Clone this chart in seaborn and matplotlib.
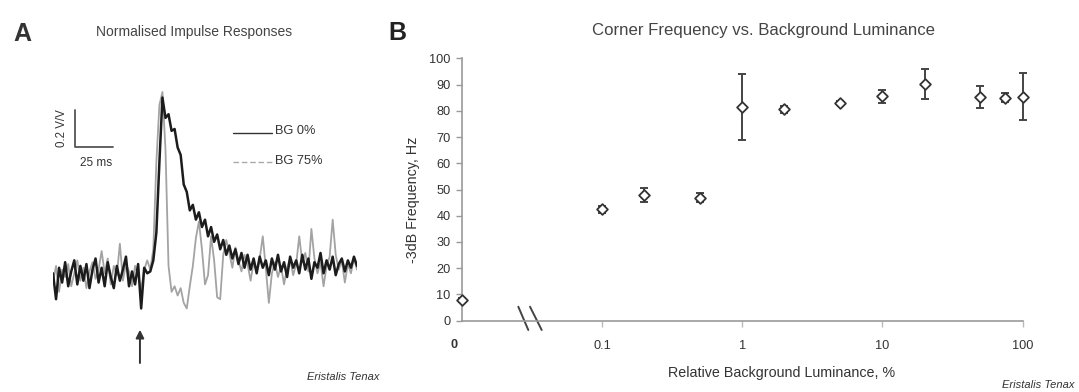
import numpy as np
import matplotlib
matplotlib.use("Agg")
import matplotlib.pyplot as plt
from matplotlib.ticker import NullLocator
import seaborn as sns

# ---------------- data ----------------
# Panel A: normalised impulse responses (V/V), sampled every 2 ms from 0 to 200 ms
black_bg0 = [
    0.02, -0.12, 0.05, -0.03, 0.08, -0.05, 0.03, 0.09, -0.04, 0.06,
    -0.02, 0.07, -0.06, 0.04, 0.10, -0.03, 0.05, -0.05, 0.08, 0.00,
    -0.06, 0.06, -0.02, 0.04, 0.11, -0.05, 0.03, -0.04, 0.07, -0.17,
    0.05, 0.02,
    0.03, 0.09, 0.24, 0.62, 0.97, 0.86, 0.88, 0.79, 0.80, 0.70,
    0.66, 0.50, 0.46, 0.36, 0.39, 0.31, 0.35, 0.27, 0.31, 0.22,
    0.27, 0.19, 0.23, 0.15, 0.20, 0.12, 0.17, 0.10, 0.15, 0.07,
    0.13, 0.05, 0.12, 0.04, 0.10, 0.02, 0.11, 0.05, 0.09, 0.01,
    0.10, 0.04, 0.12, 0.03, 0.08, 0.00, 0.11, 0.05, 0.09, 0.02,
    0.12, 0.04, 0.10, -0.01, 0.08, 0.05, 0.13, 0.02, 0.09, 0.04,
    0.11, 0.01, 0.07, 0.10, 0.03, 0.09, 0.05, 0.11, 0.06]
grey_bg75 = [
    -0.03, 0.06, -0.08, 0.04, 0.00, 0.07, -0.05, 0.02, 0.09, -0.02,
    0.05, -0.06, 0.03, 0.08, -0.01, 0.04, 0.14, 0.02, 0.10, -0.04,
    0.06, 0.01, 0.18, -0.02, 0.07, 0.03, -0.05, 0.06, 0.01, -0.07,
    0.04, 0.09,
    0.04, 0.15, 0.62, 0.93, 1.00, 0.69, 0.06, -0.08, -0.05, -0.10,
    -0.06, -0.14, -0.17, -0.05, 0.06, 0.21, 0.30, 0.15, -0.04, 0.01,
    0.22, 0.09, -0.11, -0.12, 0.12, 0.20, 0.13, 0.05, 0.16, 0.09,
    0.03, 0.12, 0.07, -0.02, 0.08, 0.03, 0.10, 0.22, 0.05, -0.14,
    0.02, 0.08, 0.00, 0.06, -0.04, 0.05, 0.10, 0.01, 0.07, 0.22,
    0.08, 0.13, 0.03, 0.26, 0.10, 0.02, 0.08, -0.05, 0.06, 0.11,
    0.31, 0.12, 0.04, 0.09, -0.03, 0.07, 0.02, 0.10, 0.04]
sample_ms = 2.0
legend_labels = ["BG 0%", "BG 75%"]

# Panel B: corner frequency vs background luminance
luminance = [0, 0.1, 0.2, 0.5, 1, 2, 5, 10, 20, 50, 75, 100]
corner_hz = [7.9, 42.4, 47.9, 46.9, 81.3, 80.6, 83.1, 85.6, 90.1, 85.4, 85.0, 85.4]
corner_err = [0.8, 1.4, 2.7, 1.7, 12.6, 1.3, 0.8, 2.5, 5.8, 4.2, 1.8, 9.0]
x_ticks = [0.1, 1, 10, 100]
x_ticklabels = ["0.1", "1", "10", "100"]
y_ticks = list(range(0, 101, 10))

# ---------------- style ----------------
sns.set_theme(style="white")
plt.rcParams["font.family"] = ["Liberation Sans Narrow", "Liberation Sans", "DejaVu Sans"]
TXT = "#333333"

W, H = 1079, 392
fig = plt.figure(figsize=(W / 100, H / 100), dpi=100)

def fx(x):
    return x / W

def fy(y):
    return 1 - y / H

# ---------------- panel A ----------------
axA = fig.add_axes([53 / W, (H - 323.25) / H, 304 / W, 240.5 / H])
t_black = np.arange(len(black_bg0)) * sample_ms
t_grey = np.arange(len(grey_bg75)) * sample_ms
sns.lineplot(x=t_grey, y=grey_bg75, ax=axA, color="#a3a3a3", lw=1.3)
sns.lineplot(x=t_black, y=black_bg0, ax=axA, color="#1c1c1c", lw=1.8)
axA.set_xlim(0, 200)
axA.set_ylim(-0.25, 1.05)
axA.axis("off")

# scale bar (0.2 V/V, 25 ms)
axA.plot([14.5, 14.5, 39.5], [0.903, 0.703, 0.703], color="#555555", lw=1.3, clip_on=False)
fig.text(fx(61.7), fy(128.5), "0.2 V/V", rotation=90, ha="center", va="center",
         fontsize=8.3, color=TXT)
fig.text(fx(96), fy(163), "25 ms", ha="center", va="center", fontsize=8.5, color=TXT)

# legend
axA.plot([118.4, 144], [0.778, 0.778], color="#333333", lw=1.0, clip_on=False)
axA.plot([118.4, 144], [0.62, 0.62], color="#aaaaaa", lw=1.0, ls=(0, (4, 2)), clip_on=False)
fig.text(fx(275), fy(131), legend_labels[0], ha="left", va="center", fontsize=9.2, color=TXT)
fig.text(fx(275), fy(161), legend_labels[1], ha="left", va="center", fontsize=9.2, color=TXT)

# stimulus arrow
axA.annotate("", xy=(57.2, -0.27), xytext=(57.2, -0.48),
             arrowprops=dict(arrowstyle="-|>", color="#333333", lw=1.4, mutation_scale=12),
             annotation_clip=False)

# clipped species label for panel A
axAbg = fig.add_axes([0, 0, 380 / W, 1])
axAbg.patch.set_visible(False)
axAbg.axis("off")
axAbg.text(307 / 380, 1 - 377 / H, "Eristalis Tenax", transform=axAbg.transAxes,
           ha="left", va="center", fontsize=8.0, style="italic", color=TXT, clip_on=True)

fig.text(fx(194.5), fy(32), "Normalised Impulse Responses", ha="center", va="center",
         fontsize=10.0, color="#444444")
fig.text(fx(22.5), fy(34), "A", ha="center", va="center", fontsize=18, weight="bold",
         family=["Liberation Sans", "DejaVu Sans"], color="#333333")

# ---------------- panel B ----------------
ax0, ax1 = 461.7, 1022.7
ay0, ay1 = 320.7, 58.3
axB = fig.add_axes([ax0 / W, (H - ay0) / H, (ax1 - ax0) / W, (ay0 - ay1) / H])

eb = axB.errorbar(luminance, corner_hz, yerr=corner_err, fmt="none", ecolor="#444444",
                  elinewidth=1.4, capsize=3.2, capthick=1.4, zorder=2)
for child in eb.get_children():
    child.set_clip_on(False)
sns.scatterplot(x=luminance, y=corner_hz, ax=axB, marker="D", s=30, color="white",
                edgecolor="#333333", linewidth=1.3, zorder=3, clip_on=False)

def fwd(x):
    x = np.asarray(x, dtype=float)
    return np.log10(np.where(x > 0, x, 0.01))

def inv(y):
    return 10 ** np.asarray(y, dtype=float)

axB.set_xscale("function", functions=(fwd, inv))
axB.set_xlim(0, 100)
axB.set_ylim(0, 100)
axB.set_xticks(x_ticks)
axB.set_xticklabels(x_ticklabels)
axB.xaxis.set_minor_locator(NullLocator())
axB.set_yticks(y_ticks)

for s in ("top", "right"):
    axB.spines[s].set_visible(False)
for s in ("left", "bottom"):
    axB.spines[s].set_color("#999999")
    axB.spines[s].set_linewidth(1.2)

axB.tick_params(axis="x", direction="out", length=4, width=1, color="#bbbbbb", pad=10,
                labelsize=9.2, labelcolor=TXT, bottom=True)
axB.tick_params(axis="y", direction="out", length=4, width=1, color="#999999", pad=4,
                labelsize=9.2, labelcolor=TXT, left=True)

axB.set_xlabel("Relative Background Luminance, %", fontsize=10.3, color=TXT)
axB.xaxis.set_label_coords((781.5 - ax0) / (ax1 - ax0), (ay0 - 372.7) / (ay0 - ay1))
axB.xaxis.label.set_va("center")
axB.set_ylabel("-3dB Frequency, Hz", fontsize=10.3, color=TXT)
axB.yaxis.set_label_coords((413 - ax0) / (ax1 - ax0), (ay0 - 199.5) / (ay0 - ay1))
axB.yaxis.label.set_va("center")

# "0" label for the zero-luminance point
fig.text(fx(453.6), fy(345), "0", ha="center", va="center", fontsize=9.2, color=TXT,
         weight="bold")

# axis break marks
def axc(px_x, px_y):
    return (px_x - ax0) / (ax1 - ax0), (ay0 - px_y) / (ay0 - ay1)

for (xa, ya), (xb, yb) in [((518.3, 306.7), (528.3, 330)), ((530, 306.7), (541.7, 330))]:
    p1, p2 = axc(xa, ya), axc(xb, yb)
    axB.plot([p1[0], p2[0]], [p1[1], p2[1]], transform=axB.transAxes, color="#444444",
             lw=1.4, clip_on=False)

fig.text(fx(763.5), fy(31), "Corner Frequency vs. Background Luminance", ha="center",
         va="center", fontsize=12.1, color="#444444")
fig.text(fx(397.5), fy(33), "B", ha="center", va="center", fontsize=18, weight="bold",
         family=["Liberation Sans", "DejaVu Sans"], color="#222222")
fig.text(fx(1002), fy(385), "Eristalis Tenax", ha="left", va="center", fontsize=8.0,
         style="italic", color=TXT)

fig.savefig("out.png", dpi=100)
